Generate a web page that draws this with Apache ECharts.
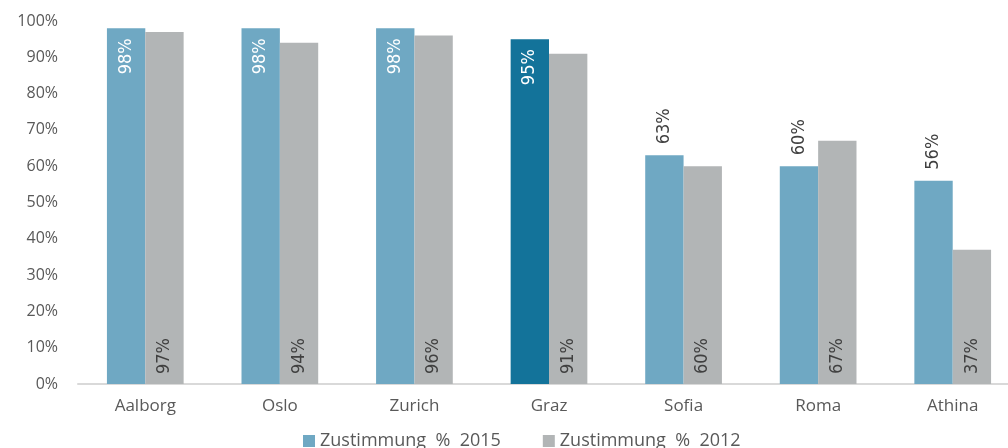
<!DOCTYPE html>
<html>
<head>
<meta charset="utf-8">
<script src="https://cdn.jsdelivr.net/npm/echarts@6/dist/echarts.min.js"></script>
<style>
  html, body { margin: 0; padding: 0; background: #fff; }
  #chart { width: 1008px; height: 448px; }
</style>
</head>
<body>
<div id="chart"></div>
<script>
// 城市
const cities = ['Aalborg', 'Oslo', 'Zurich', 'Graz', 'Sofia', 'Roma', 'Athina']
// 数值
const values2015 = [98, 98, 98, 95, 63, 60, 56]
const values2012 = [97, 94, 96, 91, 60, 67, 37]
const seriesNames = ['Zustimmung  %  2015', 'Zustimmung  %  2012']
const yTicks = [0, 10, 20, 30, 40, 50, 60, 70, 80, 90, 100]

const blue = '#6fa8c3'
const darkBlue = '#13739a'
const gray = '#b2b5b6'
const labelFont = '"DejaVu Sans Condensed", "Liberation Sans Narrow", sans-serif'

const chart = echarts.init(document.getElementById('chart'))

const data2015 = values2015.map((v, i) => {
  const inside = v > 90
  return {
    value: v,
    itemStyle: { color: cities[i] === 'Graz' ? darkBlue : blue },
    label: inside
      ? { position: 'insideTop', align: 'right', color: '#fff', distance: 10 }
      : { position: 'top', align: 'left', color: '#404040', distance: 11 }
  }
})

const option = {
  animation: false,
  textStyle: { fontFamily: '"Open Sans", sans-serif' },
  grid: {
    left: 78, width: 942, top: 21, bottom: 64,
    containLabel: false, outerBoundsMode: 'none'
  },
  legend: {
    data: seriesNames,
    top: 427,
    left: 298,
    itemWidth: 12,
    itemHeight: 12,
    itemGap: 42,
    icon: 'rect',
    textStyle: { fontSize: 18, color: '#595959' }
  },
  xAxis: {
    type: 'category',
    data: cities,
    axisTick: { show: false },
    axisLine: { lineStyle: { color: '#d9d9d9', width: 2 } },
    axisLabel: { fontSize: 17, color: '#595959', margin: 14 }
  },
  yAxis: {
    type: 'value',
    min: yTicks[0],
    max: yTicks[yTicks.length - 1],
    interval: 10,
    splitLine: { show: false },
    axisLine: { show: false },
    axisTick: { show: false },
    axisLabel: { fontSize: 16, color: '#595959', margin: 20, formatter: '{value}%' }
  },
  series: [
    {
      name: seriesNames[0],
      type: 'bar',
      barGap: '0%',
      barCategoryGap: '43%',
      itemStyle: { color: blue },
      label: {
        show: true,
        rotate: 90,
        verticalAlign: 'middle',
        fontSize: 18,
        fontFamily: labelFont,
        formatter: '{c}%'
      },
      data: data2015
    },
    {
      name: seriesNames[1],
      type: 'bar',
      itemStyle: { color: gray },
      label: {
        show: true,
        rotate: 90,
        position: 'insideBottom',
        align: 'left',
        verticalAlign: 'middle',
        distance: 10,
        fontSize: 18,
        fontFamily: labelFont,
        color: '#404040',
        formatter: '{c}%'
      },
      data: values2012
    }
  ]
}

chart.setOption(option)
</script>
</body>
</html>
